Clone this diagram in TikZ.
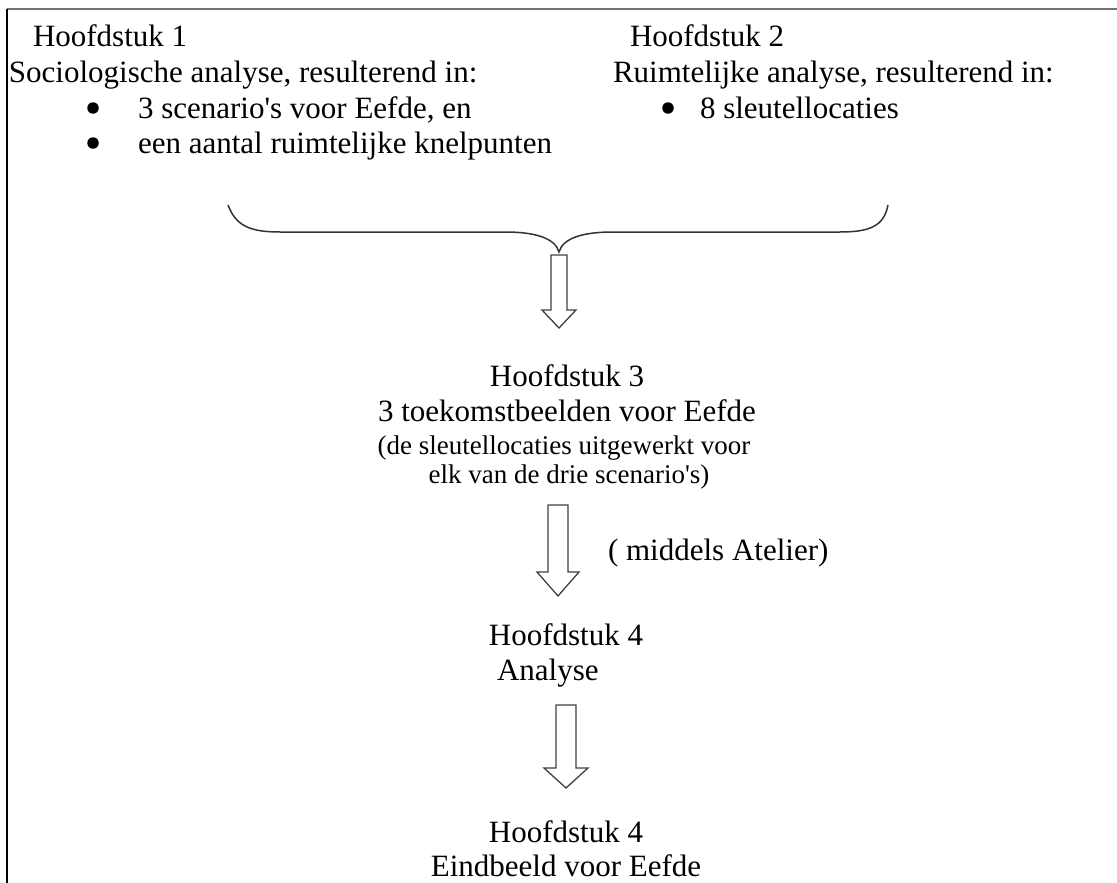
\documentclass[tikz,border=0pt]{standalone}
\usepackage{fontspec}
\newfontfamily\tnr{Liberation Serif}
\tikzset{
  txt/.style={font=\tnr\fontsize{31}{35.5}\selectfont, inner sep=0pt, outer sep=0pt},
  smalltxt/.style={font=\tnr\fontsize{27}{31}\selectfont, inner sep=0pt, outer sep=0pt},
  bulletdot/.style={circle, fill=black, inner sep=0pt, minimum size=11.5pt},
  blockarrow/.style={draw=black!75, line width=1.3pt, fill=white, line join=miter},
  bracepath/.style={draw=black!80, line width=1.5pt},
}
% #1 center x, #2 shaft top, #3 head top, #4 tip y, #5 half shaft, #6 half head
\newcommand\myblockarrow[6]{%
  \draw[blockarrow] (#1-#5,#2) -- (#1+#5,#2) -- (#1+#5,#3) -- (#1+#6,#3) -- (#1,#4)
    -- (#1-#6,#3) -- (#1-#5,#3) -- cycle;}
\begin{document}
\begin{tikzpicture}[x=1pt,y=-1pt]
\useasboundingbox (0,0) rectangle (1117,883);
% frame
\draw[black!55, line width=2pt] (7,9) -- (1117,9);
\draw[black, line width=1.5pt] (7,9) -- (7,883);

% chapter 1
\node[txt, anchor=base west] (h1) at (33,47) {Hoofdstuk 1};
\node[txt, anchor=base west] (soc) at (9,82) {Sociologische analyse, resulterend in:};
\node[bulletdot] (b1) at (93,108) {};
\node[txt, anchor=base west] (s1) at (138,118) {3 scenario's voor Eefde, en};
\node[bulletdot] (b2) at (93,143) {};
\node[txt, anchor=base west] (s2) at (138,153) {een aantal ruimtelijke knelpunten};

% chapter 2
\node[txt, anchor=base west] (h2) at (630,47) {Hoofdstuk 2};
\node[txt, anchor=base west] (ruim) at (613,82) {Ruimtelijke analyse, resulterend in:};
\node[bulletdot] (b3) at (668,108) {};
\node[txt, anchor=base west] (r1) at (700,118) {8 sleutellocaties};

% brace
\coordinate (bl) at (228,205);
\coordinate (br) at (888,205);
\coordinate (bt) at (559,252);
\draw[bracepath] (bl) .. controls (236,226) and (250,232) .. (280,232) -- (505,232)
  .. controls (535,232) and (555,238) .. (bt)
  .. controls (563,238) and (583,232) .. (613,232) -- (840,232)
  .. controls (870,232) and (884,226) .. (br);

% arrow 1
\myblockarrow{559}{255}{310}{328}{8}{17}

% chapter 3
\node[txt, anchor=base] (h3) at (567,386) {Hoofdstuk 3};
\node[txt, anchor=base] (t3) at (567,421) {3 toekomstbeelden voor Eefde};
\node[smalltxt, anchor=base] (t3a) at (564,454) {(de sleutellocaties uitgewerkt voor};
\node[smalltxt, anchor=base] (t3b) at (569,483) {elk van de drie scenario's)};

% arrow 2
\myblockarrow{558}{505}{572}{596}{10}{21}
\node[txt, anchor=base west] (mid) at (608,560) {( middels Atelier)};

% chapter 4
\node[txt, anchor=base] (h4) at (566,645) {Hoofdstuk 4};
\node[txt, anchor=base west] (an) at (497,680) {Analyse};

% arrow 3
\myblockarrow{566}{705}{768}{788}{10}{22}

% final
\node[txt, anchor=base] (h5) at (566,842) {Hoofdstuk 4};
\node[txt, anchor=base] (eind) at (566,876) {Eindbeeld voor Eefde};
\end{tikzpicture}
\end{document}
